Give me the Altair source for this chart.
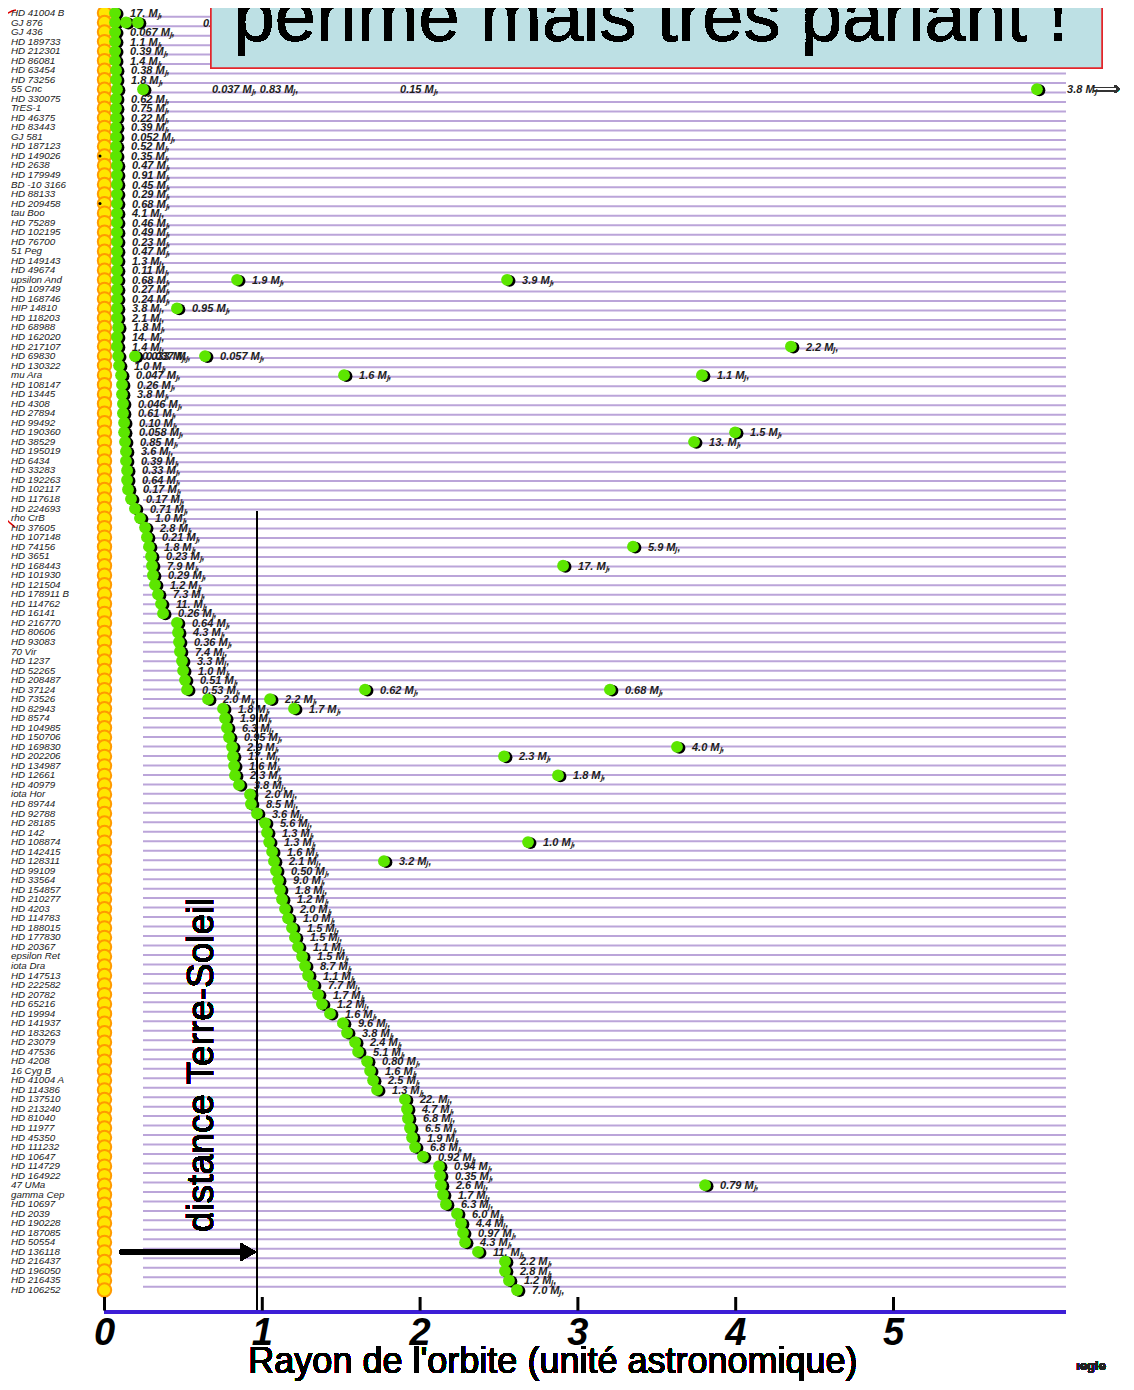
import altair as alt
import pandas as pd

# ---------------- data ----------------
STARS = [
    "HD 41004 B", "GJ 876", "GJ 436", "HD 189733", "HD 212301", "HD 86081", "HD 63454", "HD 73256",
    "55 Cnc", "HD 330075", "TrES-1", "HD 46375", "HD 83443", "GJ 581", "HD 187123", "HD 149026",
    "HD 2638", "HD 179949", "BD -10 3166", "HD 88133", "HD 209458", "tau Boo", "HD 75289", "HD 102195",
    "HD 76700", "51 Peg", "HD 149143", "HD 49674", "upsilon And", "HD 109749", "HD 168746", "HIP 14810",
    "HD 118203", "HD 68988", "HD 162020", "HD 217107", "HD 69830", "HD 130322", "mu Ara", "HD 108147",
    "HD 13445", "HD 4308", "HD 27894", "HD 99492", "HD 190360", "HD 38529", "HD 195019", "HD 6434",
    "HD 33283", "HD 192263", "HD 102117", "HD 117618", "HD 224693", "rho CrB", "HD 37605", "HD 107148",
    "HD 74156", "HD 3651", "HD 168443", "HD 101930", "HD 121504", "HD 178911 B", "HD 114762", "HD 16141",
    "HD 216770", "HD 80606", "HD 93083", "70 Vir", "HD 1237", "HD 52265", "HD 208487", "HD 37124",
    "HD 73526", "HD 82943", "HD 8574", "HD 104985", "HD 150706", "HD 169830", "HD 202206", "HD 134987",
    "HD 12661", "HD 40979", "iota Hor", "HD 89744", "HD 92788", "HD 28185", "HD 142", "HD 108874",
    "HD 142415", "HD 128311", "HD 99109", "HD 33564", "HD 154857", "HD 210277", "HD 4203", "HD 114783",
    "HD 188015", "HD 177830", "HD 20367", "epsilon Ret", "iota Dra", "HD 147513", "HD 222582", "HD 20782",
    "HD 65216", "HD 19994", "HD 141937", "HD 183263", "HD 23079", "HD 47536", "HD 4208", "16 Cyg B",
    "HD 41004 A", "HD 114386", "HD 137510", "HD 213240", "HD 81040", "HD 11977", "HD 45350", "HD 111232",
    "HD 10647", "HD 114729", "HD 164922", "47 UMa", "gamma Cep", "HD 10697", "HD 2039", "HD 190228",
    "HD 187085", "HD 50554", "HD 136118", "HD 216437", "HD 196050", "HD 216435", "HD 106252",
]

ORBIT_AU = [
    0.067, 0.067, 0.067, 0.067, 0.067, 0.067, 0.073, 0.073, 0.079, 0.073, 0.073, 0.073, 0.073, 0.073,
    0.073, 0.073, 0.079, 0.079, 0.079, 0.079, 0.079, 0.079, 0.079, 0.079, 0.079, 0.079, 0.079, 0.079,
    0.079, 0.079, 0.079, 0.079, 0.079, 0.086, 0.079, 0.079, 0.086, 0.092, 0.105, 0.111, 0.111, 0.117,
    0.117, 0.124, 0.124, 0.130, 0.136, 0.136, 0.143, 0.143, 0.149, 0.168, 0.193, 0.225, 0.257, 0.269,
    0.282, 0.295, 0.301, 0.307, 0.320, 0.339, 0.358, 0.371, 0.459, 0.466, 0.472, 0.478, 0.491, 0.498,
    0.510, 0.523, 0.656, 0.751, 0.764, 0.776, 0.789, 0.808, 0.814, 0.821, 0.827, 0.852, 0.922, 0.928,
    0.966, 1.017, 1.030, 1.043, 1.062, 1.074, 1.087, 1.100, 1.112, 1.125, 1.144, 1.163, 1.188, 1.207,
    1.226, 1.252, 1.271, 1.290, 1.321, 1.353, 1.378, 1.429, 1.511, 1.537, 1.588, 1.607, 1.664, 1.683,
    1.702, 1.727, 1.904, 1.917, 1.923, 1.936, 1.949, 1.968, 2.018, 2.120, 2.126, 2.132, 2.145, 2.164,
    2.234, 2.259, 2.272, 2.285, 2.367, 2.538, 2.538, 2.563, 2.614,
]

MASS = [
    "17.", "", "0.067", "1.1", "0.39", "1.4", "0.38", "1.8", "", "0.62", "0.75", "0.22", "0.39", "0.052",
    "0.52", "0.35", "0.47", "0.91", "0.45", "0.29", "0.68", "4.1", "0.46", "0.49", "0.23", "0.47", "1.3",
    "0.11", "0.68", "0.27", "0.24", "3.8", "2.1", "1.8", "14.", "1.4", "", "1.0", "0.047", "0.26", "3.8",
    "0.046", "0.61", "0.10", "0.058", "0.85", "3.6", "0.39", "0.33", "0.64", "0.17", "0.17", "0.71",
    "1.0", "2.8", "0.21", "1.8", "0.23", "7.9", "0.29", "1.2", "7.3", "11.", "0.26", "0.64", "4.3",
    "0.36", "7.4", "3.3", "1.0", "0.51", "0.53", "2.0", "1.8", "1.9", "6.3", "0.95", "2.9", "17.", "1.6",
    "2.3", "3.8", "2.0", "8.5", "3.6", "5.6", "1.3", "1.3", "1.6", "2.1", "0.50", "9.0", "1.8", "1.2",
    "2.0", "1.0", "1.5", "1.5", "1.1", "1.5", "8.7", "1.1", "7.7", "1.7", "1.2", "1.6", "9.6", "3.8",
    "2.4", "5.1", "0.80", "1.6", "2.5", "1.3", "22.", "4.7", "6.8", "6.5", "1.9", "6.8", "0.92", "0.94",
    "0.35", "2.6", "1.7", "6.3", "6.0", "4.4", "0.97", "4.3", "11.", "2.2", "2.8", "1.2", "7.0",
]

# further planets of multi-planet systems
EXTRA_STAR = ["GJ 876", "GJ 876", "55 Cnc", "55 Cnc", "upsilon And", "upsilon And", "HIP 14810",
              "HD 217107", "HD 69830", "HD 69830", "mu Ara", "mu Ara", "HD 190360", "HD 38529",
              "HD 74156", "HD 168443", "HD 37124", "HD 37124", "HD 73526", "HD 82943", "HD 169830",
              "HD 202206", "HD 12661", "HD 108874", "HD 128311", "47 UMa"]
EXTRA_AU = [0.136, 0.212, 0.244, 5.909, 0.840, 2.551, 0.459, 4.350, 0.193, 0.637, 1.518, 3.786,
            3.996, 3.736, 3.349, 2.906, 1.651, 3.203, 1.049, 1.201, 3.628, 2.532, 2.874, 2.684,
            1.771, 3.806]
EXTRA_MASS = ["", "", "", "", "1.9", "3.9", "0.95", "2.2", "", "0.057", "1.6", "1.1", "1.5", "13.",
              "5.9", "17.", "0.62", "0.68", "2.2", "1.7", "4.0", "2.3", "1.8", "1.0", "3.2", "0.79"]

# labels written away from their planet in the original
FREE_STAR = ["GJ 876", "55 Cnc", "55 Cnc", "55 Cnc", "HD 69830", "HD 69830"]
FREE_AU = [0.624, 0.681, 1.873, 6.100, 0.238, 0.263]
FREE_TEXT = ["0.56 Mⱼ, 1.9 Mⱼ,", "0.037 Mⱼ, 0.83 Mⱼ,", "0.15 Mⱼ,", "3.8 Mⱼ", "0.033 Mⱼ,", "0.037 Mⱼ,"]

TRANSIT_STARS = ["HD 149026", "HD 209458"]
TICKS = [0, 1, 2, 3, 4, 5]
TITLE = "périmé mais très parlant !"
XTITLE = "Rayon de l'orbite (unité astronomique)"
VTEXT = "distance Terre-Soleil"
CREDIT = "ıegie"

# ---------------- tables ----------------
ROWS = list(range(1, len(STARS) + 1))
ROW_OF = dict(zip(STARS, ROWS))

stars = pd.DataFrame({"star": STARS, "row": ROWS})
planets = pd.DataFrame({
    "row": ROWS + [ROW_OF[s] for s in EXTRA_STAR],
    "au": ORBIT_AU + EXTRA_AU,
    "label": [(m + " Mⱼ,") if m else "" for m in MASS + EXTRA_MASS],
})
free = pd.DataFrame({"row": [ROW_OF[s] for s in FREE_STAR], "au": FREE_AU, "label": FREE_TEXT})
transit = pd.DataFrame({"row": [ROW_OF[s] for s in TRANSIT_STARS]})
ticks = pd.DataFrame({"t": TICKS, "lab": [str(t) for t in TICKS]})
arcs = pd.DataFrame({
    "x": [-0.561, -0.586, -0.612, -0.637, -0.662, -0.662, -0.631, -0.599, -0.567],
    "y": [0.685, 0.79, 1.0, 1.42, 2.15, 53.15, 53.99, 54.51, 54.94],
    "arc": ["a"] * 5 + ["b"] * 4,
    "i": list(range(9)),
})

# ---------------- scales ----------------
W, H = 1118, 1374
XS = alt.Scale(domain=[-0.6115, 6.4734], nice=False, zero=False)
YS = alt.Scale(domain=[0.4753, 144.652], nice=False, zero=False, reverse=True)
LS = alt.Scale(domain=[0.0820, 145.055], nice=False, zero=False, reverse=True)

FONT = "Liberation Sans"


def xq(field):
    return alt.X(field, type="quantitative", scale=XS, axis=None)


def yq(field, scale=YS):
    return alt.Y(field, type="quantitative", scale=scale, axis=None)


def xd(v):
    return alt.XDatum(v, scale=XS, axis=None)


def yd(v):
    return alt.YDatum(v, scale=YS, axis=None)


base = alt.Chart(stars)

lines = base.mark_rule(color="#bba5d9", strokeWidth=2).encode(
    x=xd(0.244), x2=alt.X2Datum(6.093), y=yq("row", LS))

red_arcs = alt.Chart(arcs).mark_line(color="#e00000", strokeWidth=1.5).encode(
    x=xq("x"), y=yq("y"), detail="arc:N", order="i:Q")

names = base.mark_text(align="left", baseline="middle", font=FONT, fontSize=9.8,
                       fontStyle="italic", color="#222222").encode(
    x=xd(-0.5925), y=yq("row"), text="star:N")

star_dots = base.mark_circle(color="#ffe600", stroke="#ff9a00", strokeWidth=2,
                             size=180, opacity=1).encode(x=xd(0), y=yq("row"))

transit_dots = alt.Chart(transit).mark_circle(color="black", size=9, opacity=1).encode(
    x=xd(-0.0285), y=yq("row"))

earth_line = base.mark_rule(color="black", strokeWidth=1.5).encode(
    x=xd(0.966), y=yd(53.26), y2=alt.Y2Datum(137.31))

arrow_shaft = base.mark_rule(color="black", strokeWidth=5).encode(
    x=xd(0.098), x2=alt.X2Datum(0.905), y=yd(131.01))
arrow_head = base.mark_point(shape="triangle-right", filled=True, color="black",
                             size=320, opacity=1).encode(x=xd(0.911), y=yd(131.01))

vtext = base.mark_text(text=VTEXT, angle=270, align="left", baseline="alphabetic",
                       font=FONT, fontSize=37, color="black").encode(
    x=xd(0.6876), y=yd(128.91))

shadows = alt.Chart(planets).mark_circle(color="black", size=140, opacity=1,
                                         xOffset=2.5, yOffset=1).encode(
    x=xq("au"), y=yq("row"))
greens = alt.Chart(planets).mark_circle(color="#5ce600", size=140, opacity=1).encode(
    x=xq("au"), y=yq("row"))

mass_labels = alt.Chart(planets).mark_text(
    align="left", baseline="middle", dx=15, dy=1, font=FONT, fontSize=11,
    fontStyle="italic", fontWeight="bold", color="#1e1e1e").encode(
    x=xq("au"), y=yq("row"), text="label:N")

free_labels = alt.Chart(free).mark_text(
    align="left", baseline="middle", dy=1, font=FONT, fontSize=11,
    fontStyle="italic", fontWeight="bold", color="#1e1e1e").encode(
    x=xq("au"), y=yq("row"), text="label:N")

far_arrow = base.mark_text(text="⟹", align="left", baseline="middle", fontSize=19,
                           color="#333333").encode(x=xd(6.262), y=yd(9.0))

axis_line = base.mark_rule(color="#3d1ed6", strokeWidth=4).encode(
    x=xd(0), x2=alt.X2Datum(6.093), y=yd(137.31))

tick_marks = alt.Chart(ticks).mark_rule(color="black", strokeWidth=3).encode(
    x=xq("t"), y=yd(135.73), y2=alt.Y2Datum(137.15))

tick_labels = alt.Chart(ticks).mark_text(
    align="center", baseline="alphabetic", font=FONT, fontSize=38,
    fontStyle="italic", fontWeight="bold", color="black").encode(
    x=xq("t"), y=yd(140.77), text="lab:N")

x_title = base.mark_text(text=XTITLE, align="center", baseline="alphabetic",
                         font=FONT, fontSize=36, color="black").encode(
    x=xd(2.842), y=yd(143.75))

credit = base.mark_text(text=CREDIT, align="right", baseline="alphabetic", font=FONT,
                        fontSize=13, fontWeight="bold", color="#222222").encode(
    x=xd(6.346), y=yd(143.4))

title_box = base.mark_rect(fill="#bde0e4", stroke="#e3262b", strokeWidth=1.5).encode(
    x=xd(0.6749), x2=alt.X2Datum(6.3213), y=yd(-1.5), y2=alt.Y2Datum(6.77))

title_text = base.mark_text(text=TITLE, align="center", baseline="alphabetic",
                            font=FONT, fontSize=74, color="black").encode(
    x=xd(3.4632), y=yd(3.94))

chart = alt.layer(
    lines, red_arcs, names, star_dots, transit_dots, earth_line, arrow_shaft, arrow_head,
    vtext, shadows, greens, mass_labels, free_labels, far_arrow, axis_line, tick_marks,
    tick_labels, x_title, credit, title_box, title_text,
).resolve_scale(y="independent").properties(
    width=W, height=H, padding=0, autosize=alt.AutoSizeParams(type="none"),
).configure_view(strokeWidth=0)

chart.save("out.html", embed_options={"renderer": "svg", "actions": False})
